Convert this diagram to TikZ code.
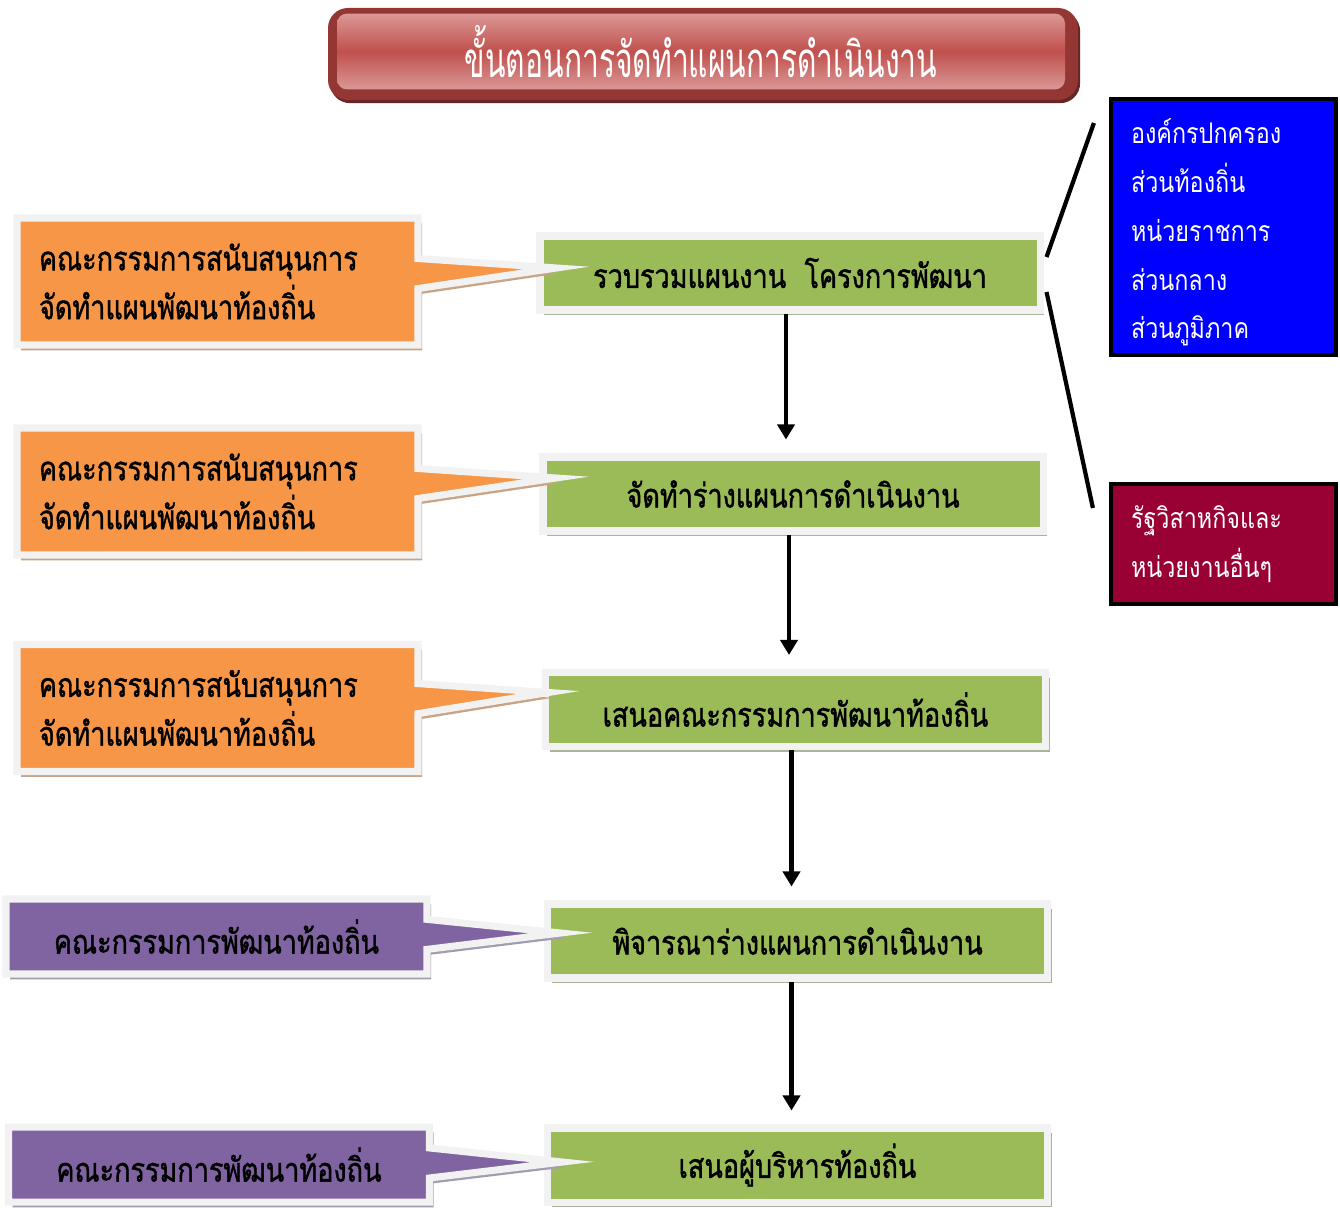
\documentclass[tikz,border=0pt]{standalone}
\usepackage{fontspec}
\newfontfamily\thaifont[Script=Thai,FakeStretch=0.82]{Loma}
\newfontfamily\thaiheavy[Script=Thai,FakeStretch=0.81,FakeBold=1.2]{Loma}
\newfontfamily\thaititle[Script=Thai,FakeStretch=0.61]{Loma}
\usepackage{tikz}
\usetikzlibrary{arrows.meta, positioning, shapes.callouts, shadows, calc}

\definecolor{stepgreen}{HTML}{9BBB59}
\definecolor{greenshade}{HTML}{AAB597}
\definecolor{rim}{HTML}{F2F2F2}
\definecolor{noteorange}{HTML}{F79646}
\definecolor{orangeshade}{HTML}{C9A386}
\definecolor{notepurple}{HTML}{8064A2}
\definecolor{purpleshade}{HTML}{A29CB0}
\definecolor{orgblue}{HTML}{0000FF}
\definecolor{statered}{HTML}{990033}
\definecolor{titledark}{HTML}{943634}
\definecolor{titlered}{HTML}{C0504D}
\definecolor{titlelight}{HTML}{DA9896}

\begin{document}
\begin{tikzpicture}[
        stepbox/.style={draw=rim, fill=stepgreen, line width=2pt, minimum width=5cm, minimum height=0.74cm,
                inner sep=0pt, font=\thaiheavy\fontsize{9.5}{12}\selectfont,
                drop shadow={shadow xshift=1.2pt, shadow yshift=-1.5pt, fill=greenshade, opacity=1}},
        note/.style={rectangle callout, draw=rim, line width=2pt, callout pointer width=0.3cm,
                inner sep=0pt, minimum width=4.01cm, font=\thaiheavy\fontsize{9.5}{13.9}\selectfont},
        helpnote/.style={note, fill=noteorange, minimum height=1.27cm, text width=3.57cm, align=left,
                drop shadow={shadow xshift=1.2pt, shadow yshift=-1.5pt, fill=orangeshade, opacity=1}},
        devnote/.style={note, fill=notepurple, minimum width=4.21cm, minimum height=0.75cm, align=center,
                drop shadow={shadow xshift=1.2pt, shadow yshift=-1.5pt, fill=purpleshade, opacity=1}},
        orgbox/.style={draw=black, line width=1.2pt, fill=orgblue, text=white, minimum width=2.25cm,
                text width=1.85cm, align=left, inner sep=0pt, font=\thaifont\fontsize{8.1}{13.9}\selectfont},
        flow/.style={-{Triangle[length=1.5mm, width=1.7mm]}, line width=1.3pt, shorten >=0.14cm},
        link/.style={line width=1.2pt}]
    \useasboundingbox (0,0) rectangle (13.40,-12.07);

    % หัวเรื่อง
    \node[fill=titledark, rounded corners=0.2cm, minimum width=7.5cm, minimum height=0.92cm,
          drop shadow={shadow xshift=0.6pt, shadow yshift=-0.9pt, fill=titledark!70!black, opacity=1}]
          (titleframe) at (7.03,-0.54) {};
    \node[rounded corners=0.1cm, minimum width=7.28cm, minimum height=0.67cm, top color=titlelight,
          bottom color=titlelight, middle color=titlered, text=white,
          font=\thaititle\fontsize{14}{16}\selectfont] (title) at (7.01,-0.515)
          {ขั้นตอนการจัดทำแผนการดำเนินงาน};

    % ขั้นตอน
    \node[stepbox] (gather) at (7.90,-2.73) {รวบรวมแผนงาน~~โครงการพัฒนา};
    \node[stepbox] (draft) at (7.93,-4.94) {จัดทำร่างแผนการดำเนินงาน};
    \node[stepbox] (propose) at (7.955,-7.095) {เสนอคณะกรรมการพัฒนาท้องถิ่น};
    \node[stepbox] (consider) at (7.975,-9.41) {พิจารณาร่างแผนการดำเนินงาน};
    \node[stepbox] (executive) at (7.975,-11.65) {เสนอผู้บริหารท้องถิ่น};

    \draw[flow] ([xshift=-0.04cm]gather.south) -- ([xshift=-0.04cm]gather.south |- draft.north);
    \draw[flow] ([xshift=-0.04cm]draft.south) -- ([xshift=-0.04cm]draft.south |- propose.north);
    \draw[flow] ([xshift=-0.04cm]propose.south) -- ([xshift=-0.04cm]propose.south |- consider.north);
    \draw[flow] ([xshift=-0.06cm]consider.south) -- ([xshift=-0.06cm]consider.south |- executive.north);

    % ผู้สนับสนุน
    \node[helpnote, callout absolute pointer={($(gather.west)+(0.20,0.05)$)}] (support1) at (2.175,-2.815)
          {คณะกรรมการสนับสนุนการ\\จัดทำแผนพัฒนาท้องถิ่น};
    \node[helpnote, callout absolute pointer={($(draft.west)+(0.165,0.16)$)}] (support2) at (2.175,-4.915)
          {คณะกรรมการสนับสนุนการ\\จัดทำแผนพัฒนาท้องถิ่น};
    \node[helpnote, callout absolute pointer={($(propose.west)+(0.065,0.17)$)}] (support3) at (2.175,-7.08)
          {คณะกรรมการสนับสนุนการ\\จัดทำแผนพัฒนาท้องถิ่น};
    \node[devnote, callout absolute pointer={($(consider.west)+(0.165,0.08)$)}] (council1) at (2.165,-9.365)
          {คณะกรรมการพัฒนาท้องถิ่น};
    \node[devnote, callout absolute pointer={($(executive.west)+(0.185,0.03)$)}] (council2) at (2.19,-11.645)
          {คณะกรรมการพัฒนาท้องถิ่น};

    % หน่วยงานที่ส่งแผน
    \node[orgbox, minimum height=2.56cm] (central) at (12.235,-2.27)
          {\rule{0pt}{0.36cm}องค์กรปกครอง\\ส่วนท้องถิ่น\\หน่วยราชการ\\ส่วนกลาง\\ส่วนภูมิภาค};
    \node[orgbox, fill=statered, minimum height=1.2cm] (stateunits) at (12.235,-5.44)
          {รัฐวิสาหกิจและ\\หน่วยงานอื่นๆ};

    \coordinate (toporg) at ($(central.west)+(-0.15,1.04)$);
    \coordinate (topstate) at ($(stateunits.west)+(-0.16,0.36)$);
    \draw[link] ($(gather.east)+(0.03,0.16)$) -- (toporg);
    \draw[link] ($(gather.east)+(0.03,-0.19)$) -- (topstate);

\end{tikzpicture}
\end{document}
